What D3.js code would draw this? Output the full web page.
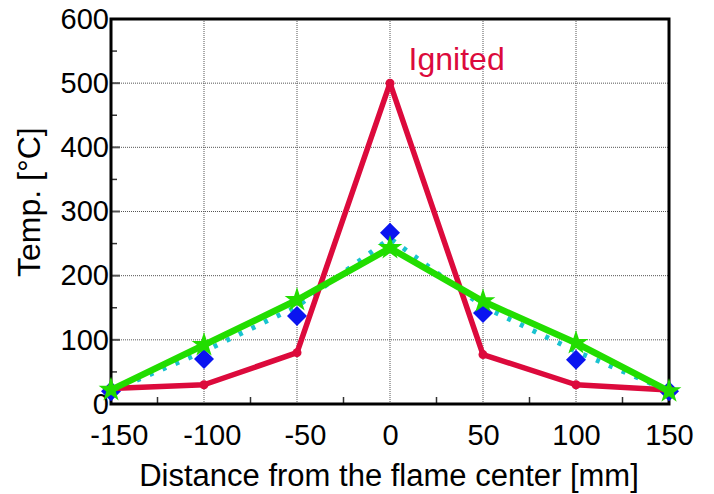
<!DOCTYPE html>
<meta charset="utf-8">
<style>
body { margin: 0; background: #fff; }
svg { display: block; font-family: "Liberation Sans", Arial, sans-serif; }
.tick text { font-size: 29px; fill: #000; }
</style>
<svg id="chart" width="714" height="494"></svg>
<script src="https://cdn.jsdelivr.net/npm/d3@7"></script>
<script>
// distances [mm]
var distances = [-150, -100, -50, 0, 50, 100, 150];
// temperatures [°C]
var ignited = [24, 30, 80, 500, 77, 30, 22];
var diamonds = [20, 70, 137, 267, 142, 69, 20];
var dotted = [20, 82, 152, 258, 152, 82, 20];
var stars = [22, 92, 162, 243, 160, 95, 20];
var xTicks = [-150, -100, -50, 0, 50, 100, 150];
var yTicks = [0, 100, 200, 300, 400, 500, 600];

var margin = {left: 111, right: 45, top: 19, bottom: 90};
var width = 714 - margin.left - margin.right,
    height = 494 - margin.top - margin.bottom;

var svg = d3.select("#chart");
var g = svg.append("g").attr("transform", "translate(" + margin.left + "," + margin.top + ")");

var x = d3.scaleLinear().domain([-150, 150]).range([0, width]);
var y = d3.scaleLinear().domain([0, 600]).range([height, 0]);

// grid
g.selectAll(".vgrid").data(xTicks.slice(1, -1)).enter().append("line")
  .attr("x1", d => x(d)).attr("x2", d => x(d))
  .attr("y1", 0).attr("y2", height)
  .attr("stroke", "#555").attr("stroke-width", 1).attr("stroke-dasharray", "1,1");
g.selectAll(".hgrid").data(yTicks.slice(1, -1)).enter().append("line")
  .attr("y1", d => y(d)).attr("y2", d => y(d))
  .attr("x1", 0).attr("x2", width)
  .attr("stroke", "#555").attr("stroke-width", 1).attr("stroke-dasharray", "1,1");

// minor ticks, inward
g.selectAll(".xminor").data(d3.range(-125, 150, 50)).enter().append("line")
  .attr("x1", d => x(d)).attr("x2", d => x(d))
  .attr("y1", height).attr("y2", height - 7)
  .attr("stroke", "#333").attr("stroke-width", 1.5);
g.selectAll(".yminor").data(d3.range(50, 600, 100)).enter().append("line")
  .attr("y1", d => y(d)).attr("y2", d => y(d))
  .attr("x1", 0).attr("x2", 6)
  .attr("stroke", "#333").attr("stroke-width", 1.5);
g.selectAll(".ymajor").data(yTicks.slice(1, -1)).enter().append("line")
  .attr("y1", d => y(d)).attr("y2", d => y(d))
  .attr("x1", 0).attr("x2", 9)
  .attr("stroke", "#555").attr("stroke-width", 2);

// axes text (plain hyphen minus, centred on the digits)
var xAxis = g.append("g").attr("transform", "translate(0," + height + ")")
  .call(d3.axisBottom(x).tickValues(xTicks).tickSize(0).tickPadding(20)
    .tickFormat(d => String(d)));
xAxis.select(".domain").remove();
xAxis.selectAll("text").attr("dy", "0.71em")
  .attr("dx", d => d < 0 ? "0.27em" : 0);
var yAxis = g.append("g")
  .call(d3.axisLeft(y).tickValues(yTicks).tickSize(0).tickPadding(2));
yAxis.select(".domain").remove();

// frame
g.append("rect").attr("width", width).attr("height", height)
  .attr("fill", "none").attr("stroke", "#000").attr("stroke-width", 3);

var line = d3.line().x((d, i) => x(distances[i])).y(d => y(d));

// cyan dotted
g.append("path").datum(dotted).attr("d", line)
  .attr("fill", "none").attr("stroke", "#19c3d0").attr("stroke-width", 5)
  .attr("stroke-dasharray", "4,10");

// blue diamonds
g.selectAll(".dia").data(diamonds).enter().append("path")
  .attr("d", d3.symbol().type(d3.symbolSquare).size(200))
  .attr("transform", (d, i) => "translate(" + x(distances[i]) + "," + y(d) + ") rotate(45)")
  .attr("fill", "#0a14f0");

// red ignited
g.append("path").datum(ignited).attr("d", line)
  .attr("fill", "none").attr("stroke", "#dc0a3c").attr("stroke-width", 5.5)
  .attr("stroke-linejoin", "round");
g.selectAll(".dot").data(ignited).enter().append("circle")
  .attr("cx", (d, i) => x(distances[i])).attr("cy", d => y(d)).attr("r", 4.5)
  .attr("fill", "#dc0a3c");

// green stars
g.append("path").datum(stars).attr("d", line)
  .attr("fill", "none").attr("stroke", "#22dd00").attr("stroke-width", 6.5);
g.selectAll(".star").data(stars).enter().append("path")
  .attr("d", d3.symbol().type(d3.symbolStar).size(190))
  .attr("transform", (d, i) => "translate(" + x(distances[i]) + "," + y(d) + ")")
  .attr("fill", "#22dd00");

// label
g.append("text").attr("x", x(10)).attr("y", y(521))
  .attr("fill", "#dc0a3c").style("font-size", "32px").text("Ignited");

// axis titles
svg.append("text").attr("x", margin.left + width / 2 - 1).attr("y", 486)
  .attr("text-anchor", "middle").style("font-size", "31px").text("Distance from the flame center [mm]");
svg.append("text")
  .attr("transform", "translate(40,277) rotate(-90)")
  .attr("text-anchor", "start").style("font-size", "32px").text("Temp. [°C]");
</script>
